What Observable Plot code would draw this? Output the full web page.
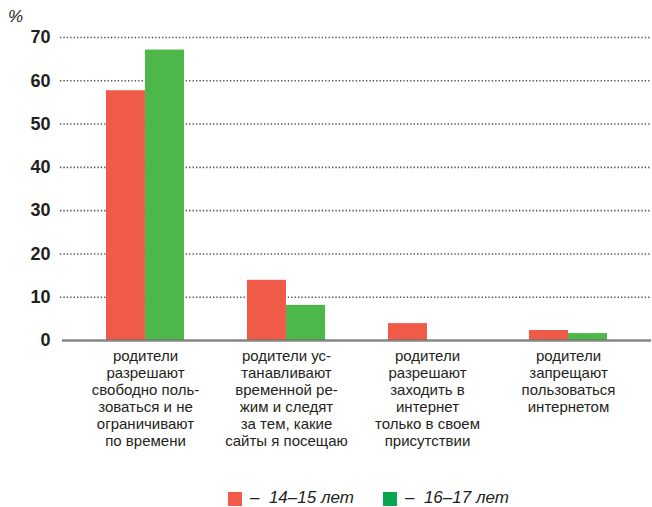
<!DOCTYPE html>
<html>
<head>
<meta charset="utf-8">
<script src="https://cdn.jsdelivr.net/npm/d3@7"></script>
<script src="https://cdn.jsdelivr.net/npm/@observablehq/plot@0.6"></script>
<style>
  html, body { margin: 0; padding: 0; background: #fff; }
  #wrap { position: relative; width: 652px; height: 507px; font-family: "Liberation Sans", Arial, sans-serif; color: #231f20; }
  #unit { position: absolute; left: 8px; top: 7px; font-size: 17px; font-style: italic; }
  #chart { position: absolute; left: 0; top: 0; }
  #legend { position: absolute; left: 0; top: 480px; width: 652px; height: 27px; font-size: 17px; font-style: italic; color: #231f20; }
  .sw { position: absolute; top: 12px; width: 14px; height: 14px; }
  .lt { position: absolute; top: 8px; white-space: pre; line-height: 20px; }
</style>
</head>
<body>
<div id="wrap">
  <div id="chart"></div>
  <div id="unit">%</div>
  <div id="legend"></div>
</div>
<script>
const categories = [
  "родители\nразрешают\nсвободно поль-\nзоваться и не\nограничивают\nпо времени",
  "родители ус-\nтанавливают\nвременной ре-\nжим и следят\nза тем, какие\nсайты я посещаю",
  "родители\nразрешают\nзаходить в\nинтернет\nтолько в своем\nприсутствии",
  "родители\nзапрещают\nпользоваться\nинтернетом"
];
const seriesNames = ["14–15 лет", "16–17 лет"];
const values1415 = [57.7, 13.9, 3.9, 2.3];
const values1617 = [67.1, 8.1, 0, 1.6];
const yTicks = [0, 10, 20, 30, 40, 50, 60, 70];
const barColors = ["#f05a48", "#4cb84a"];
const legendColors = ["#f05a48", "#0aa64e"];

const data1415 = categories.map((c, i) => ({category: c, value: values1415[i]}));
const data1617 = categories.map((c, i) => ({category: c, value: values1617[i]}));

const W = 652, ML = 62, MR = 1;
const pInner = 0.45, pOuter = 0.3;
const step = (W - ML - MR) / (categories.length - pInner + 2 * pOuter);
const half = step * (1 - pInner) / 2;

const chart = Plot.plot({
  width: W,
  height: 470,
  marginLeft: ML,
  marginRight: MR,
  marginTop: 37,
  marginBottom: 130,
  style: {fontFamily: "'Liberation Sans', Arial, sans-serif", color: "#231f20", background: "#fff"},
  x: {domain: categories, paddingInner: pInner, paddingOuter: pOuter, axis: null},
  y: {domain: [0, 70], axis: null},
  marks: [
    Plot.ruleY(yTicks.filter(d => d > 0), {stroke: "#4d4d4d", strokeWidth: 1.6, strokeDasharray: "1.3 2.1", insetLeft: -2}),
    Plot.axisY({ticks: yTicks, tickSize: 0, tickPadding: 12, fontSize: 18, fontWeight: "bold", label: null, fill: "#231f20"}),
    Plot.barY(data1415.filter(d => d.value > 0), {x: "category", y: "value", fill: barColors[0], insetRight: half}),
    Plot.barY(data1617.filter(d => d.value > 0), {x: "category", y: "value", fill: barColors[1], insetLeft: half}),
    Plot.ruleY([0], {stroke: "#707070", strokeOpacity: 0.85, strokeWidth: 2.5}),
    Plot.text(categories, {x: d => d, text: d => d, frameAnchor: "bottom", lineAnchor: "top", dy: 8, fontSize: 15, lineHeight: 1.14, fill: "#231f20"})
  ]
});
document.getElementById("chart").appendChild(chart);

const legend = document.getElementById("legend");
const swX = [228, 383];
seriesNames.forEach((s, i) => {
  const sw = document.createElement("div");
  sw.className = "sw";
  sw.style.left = swX[i] + "px";
  sw.style.background = legendColors[i];
  legend.appendChild(sw);
  const t = document.createElement("div");
  t.className = "lt";
  t.style.left = (swX[i] + 22) + "px";
  t.textContent = "–  " + s;
  legend.appendChild(t);
});
</script>
</body>
</html>
